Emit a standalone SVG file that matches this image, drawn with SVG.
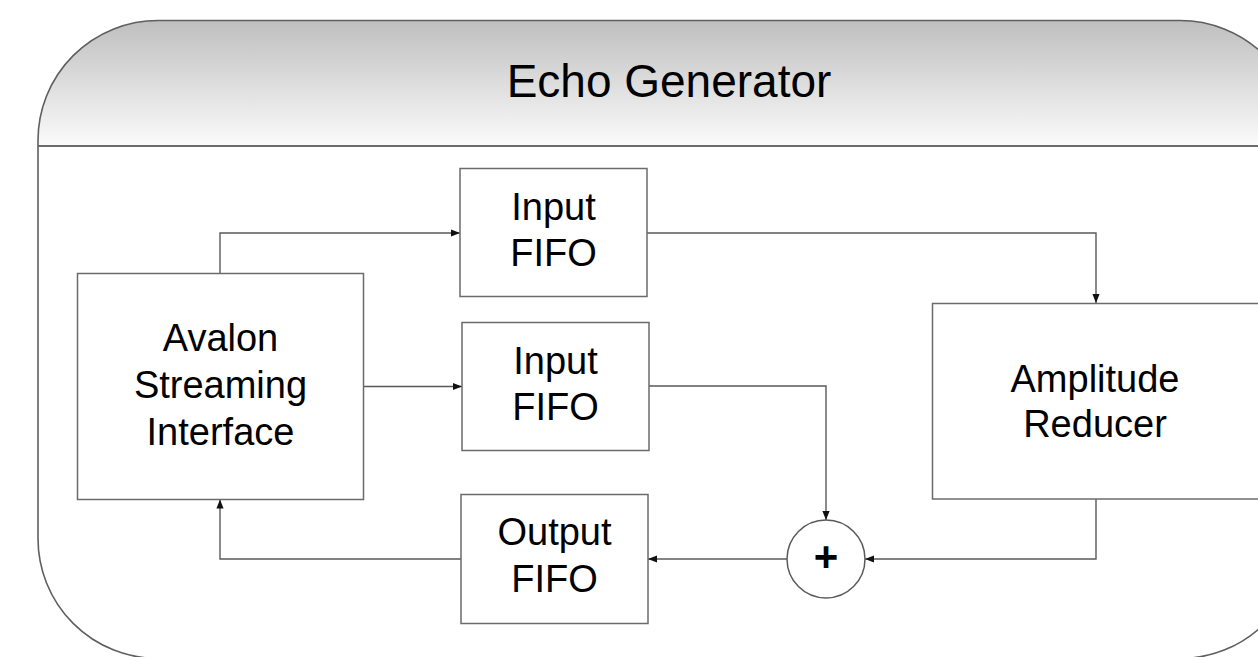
<svg xmlns="http://www.w3.org/2000/svg" width="1258" height="657" viewBox="0 0 1258 657">
  <style>
    .box { fill: #ffffff; stroke: #6b6b6b; stroke-width: 1.5; }
    .lbl { font-family: "Liberation Sans", Arial, sans-serif; font-size: 38px; fill: #000; text-anchor: middle; }
    .conn { fill: none; stroke: #5a5a5a; stroke-width: 1.4; }
  </style>
  <defs>
    <linearGradient id="hdr" x1="0" y1="0" x2="0" y2="1">
      <stop offset="0" stop-color="#bcbcbc"/>
      <stop offset="1" stop-color="#fbfbfb"/>
    </linearGradient>
    <clipPath id="outerClip">
      <rect x="38" y="20.5" width="1262" height="638" rx="120" ry="120"/>
    </clipPath>
    <marker id="arr" viewBox="0 0 10 10" refX="10" refY="5" markerWidth="9" markerHeight="9" markerUnits="userSpaceOnUse" orient="auto">
      <path d="M0,1 L10,5 L0,9 Z" fill="#111"/>
    </marker>
  </defs>

  <g id="container">
    <rect x="38" y="20.5" width="1262" height="638" rx="120" ry="120" fill="#ffffff"/>
    <rect x="30" y="15" width="1280" height="131" fill="url(#hdr)" clip-path="url(#outerClip)"/>
    <line x1="38" y1="146" x2="1300" y2="146" stroke="#6b6b6b" stroke-width="2"/>
    <rect x="38" y="20.5" width="1262" height="638" rx="120" ry="120" fill="none" stroke="#5f5f5f" stroke-width="1.6"/>
    <text x="669" y="97" font-family="'Liberation Sans', Arial, sans-serif" font-size="46" text-anchor="middle" fill="#000">Echo Generator</text>
  </g>

  <g id="connectors">
    <polyline class="conn" points="220,273 220,233 460,233" marker-end="url(#arr)"/>
    <polyline class="conn" points="363,386.5 462,386.5" marker-end="url(#arr)"/>
    <polyline class="conn" points="647,233 1096,233 1096,303" marker-end="url(#arr)"/>
    <polyline class="conn" points="649,386 826,386 826,520" marker-end="url(#arr)"/>
    <polyline class="conn" points="1096,499 1096,559 865,559" marker-end="url(#arr)"/>
    <polyline class="conn" points="787,559 648,559" marker-end="url(#arr)"/>
    <polyline class="conn" points="461,559 220,559 220,499.5" marker-end="url(#arr)"/>
  </g>

  <g id="avalon">
    <rect class="box" x="77.5" y="273.5" width="286" height="226"/>
    <text class="lbl" x="220.5" y="350.5">Avalon</text>
    <text class="lbl" x="220.5" y="397.5">Streaming</text>
    <text class="lbl" x="220.5" y="444.5">Interface</text>
  </g>

  <g id="input-fifo-1">
    <rect class="box" x="460" y="168.5" width="187" height="128"/>
    <text class="lbl" x="553.5" y="220">Input</text>
    <text class="lbl" x="553.5" y="266">FIFO</text>
  </g>

  <g id="input-fifo-2">
    <rect class="box" x="462" y="322.5" width="187" height="128"/>
    <text class="lbl" x="555.5" y="373.5">Input</text>
    <text class="lbl" x="555.5" y="420">FIFO</text>
  </g>

  <g id="output-fifo">
    <rect class="box" x="461" y="494.5" width="187" height="129"/>
    <text class="lbl" x="554.5" y="545">Output</text>
    <text class="lbl" x="554.5" y="591.5">FIFO</text>
  </g>

  <g id="amplitude-reducer">
    <rect class="box" x="932.5" y="303.5" width="330" height="195.5"/>
    <text class="lbl" x="1095" y="392">Amplitude</text>
    <text class="lbl" x="1095" y="437">Reducer</text>
  </g>

  <g id="adder">
    <circle cx="826" cy="559" r="39" fill="#ffffff" stroke="#5a5a5a" stroke-width="1.5"/>
    <text x="826" y="571" font-family="'Liberation Sans', Arial, sans-serif" font-size="42" font-weight="bold" text-anchor="middle" fill="#000">+</text>
  </g>
</svg>
